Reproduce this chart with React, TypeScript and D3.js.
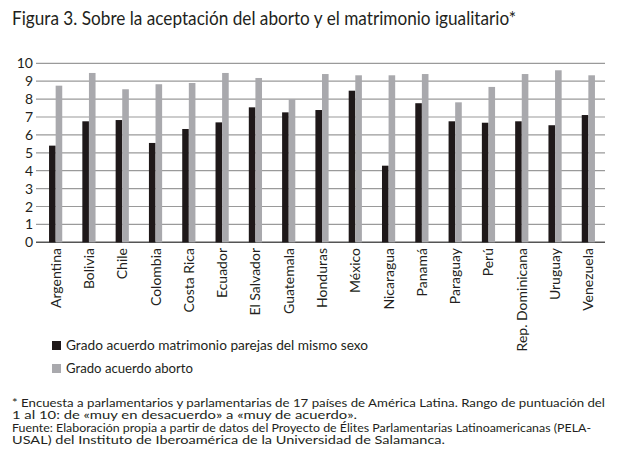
import React from "react";
import * as d3 from "d3";

const countries = [
  "Argentina", "Bolivia", "Chile", "Colombia", "Costa Rica", "Ecuador", "El Salvador",
  "Guatemala", "Honduras", "México", "Nicaragua", "Panamá", "Paraguay", "Perú",
  "Rep. Dominicana", "Uruguay", "Venezuela",
];
const matrimonio = [5.4, 6.76, 6.83, 5.55, 6.33, 6.7, 7.54, 7.26, 7.39, 8.47, 4.28, 7.77, 6.76, 6.68, 6.76, 6.54, 7.11];
const aborto = [8.75, 9.46, 8.55, 8.83, 8.9, 9.46, 9.18, 8.0, 9.4, 9.33, 9.33, 9.4, 7.82, 8.68, 9.4, 9.61, 9.33];
const yTicks = [0, 1, 2, 3, 4, 5, 6, 7, 8, 9, 10];
const seriesNames = ["Grado acuerdo matrimonio parejas del mismo sexo", "Grado acuerdo aborto"];
const legendWidths = [302, 127];
const title = "Figura 3. Sobre la aceptación del aborto y el matrimonio igualitario*";
const notes = [
  "* Encuesta a parlamentarios y parlamentarias de 17 países de América Latina. Rango de puntuación del",
  "1 al 10: de «muy en desacuerdo» a «muy de acuerdo».",
  "Fuente: Elaboración propia a partir de datos del Proyecto de Élites Parlamentarias Latinoamericanas (PELA-",
  "USAL) del Instituto de Iberoamérica de la Universidad de Salamanca.",
];
const noteWidths = [593, 345, 579, 433];

const W = 623, H = 462;
const FONT = "Lato, 'Open Sans', sans-serif";
const BLACK = "#1e1819";
const GRAY = "#a9a9ad";

export default function App() {
  const x = d3.scaleBand<string>().domain(countries).range([39, 605]);
  const y = d3.scaleLinear().domain([0, 10]).range([242.3, 63.3]);
  const bw = 6.6;
  return (
    <svg width={W} height={H} style={{ position: "absolute", left: 0, top: 0, background: "#fff" }}>
      <rect width={W} height={H} fill="#fff" />
      <text x={12} y={25} fontFamily={FONT} fontSize={19} fill="#231f20" textLength={504} lengthAdjust="spacingAndGlyphs">{title}</text>
      {yTicks.map((t) => (
        <g key={t}>
          <line x1={36} x2={605} y1={y(t)} y2={y(t)} stroke={t === 0 ? "#555" : "#9a9a9a"} strokeWidth={t === 0 ? 1.4 : 1.2} />
          <text x={33} y={y(t) + 5} textAnchor="end" fontFamily={FONT} fontSize={14} fill="#231f20">{t}</text>
        </g>
      ))}
      {countries.map((c, i) => {
        const cx = (x(c) as number) + x.bandwidth() / 2;
        return (
          <g key={c}>
            <rect x={cx - bw} y={y(matrimonio[i])} width={bw} height={y(0) - y(matrimonio[i])} fill={BLACK} />
            <rect x={cx} y={y(aborto[i])} width={bw} height={y(0) - y(aborto[i])} fill={GRAY} />
            <text transform={`translate(${cx + 5},248) rotate(-90)`} textAnchor="end" fontFamily={FONT} fontSize={14} fill="#231f20">{c}</text>
          </g>
        );
      })}
      {seriesNames.map((s, i) => (
        <g key={s}>
          <rect x={52} y={341 + i * 23} width={9} height={9} fill={i === 0 ? BLACK : GRAY} />
          <text x={66} y={350 + i * 23} fontFamily={FONT} fontSize={14} fill="#231f20" textLength={legendWidths[i]} lengthAdjust="spacingAndGlyphs">{s}</text>
        </g>
      ))}
      {notes.map((n, i) => (
        <text key={i} x={12} y={407 + i * 12.3} fontFamily={FONT} fontSize={11.3} fill="#231f20" textLength={noteWidths[i]} lengthAdjust="spacingAndGlyphs">{n}</text>
      ))}
    </svg>
  );
}
